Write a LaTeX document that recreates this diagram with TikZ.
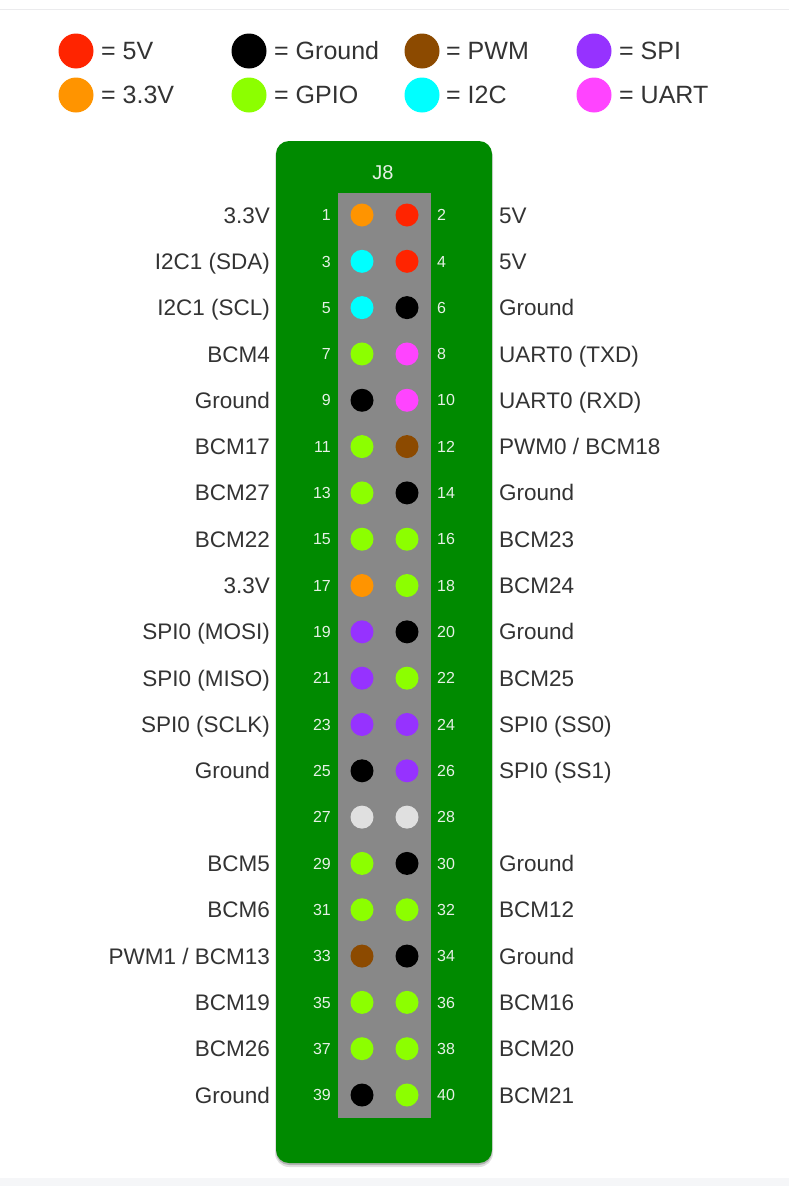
\documentclass[tikz,border=0pt]{standalone}
\usepackage{fontspec}
\setmainfont{Liberation Sans}
\definecolor{cfive}{RGB}{255,36,0}
\definecolor{cthree}{RGB}{255,148,0}
\definecolor{cgnd}{RGB}{0,0,0}
\definecolor{cgpio}{RGB}{140,255,0}
\definecolor{cpwm}{RGB}{140,74,0}
\definecolor{ciic}{RGB}{0,255,255}
\definecolor{cspi}{RGB}{150,50,255}
\definecolor{cuart}{RGB}{255,68,255}
\definecolor{cnone}{RGB}{224,224,224}
\definecolor{cboard}{RGB}{0,138,0}
\definecolor{cheader}{RGB}{136,136,136}
\definecolor{ctext}{RGB}{51,51,51}
\definecolor{cnum}{RGB}{230,240,230}
\tikzset{
  pinnode/.style={circle, draw=none, minimum size=23, inner sep=0pt},
  legdot/.style={circle, draw=none, minimum size=35, inner sep=0pt},
  numtext/.style={text=cnum, inner sep=0pt, font=\fontsize{16}{19}\selectfont, text height=11.46pt, text depth=0pt},
  lbltext/.style={text=ctext, inner sep=0pt, font=\fontsize{22.5}{26}\selectfont, text height=16.1pt, text depth=0pt},
  legtext/.style={text=ctext, inner sep=0pt, anchor=west, font=\fontsize{25}{30}\selectfont, text height=17.9pt, text depth=0pt},
}
\newcommand{\pinrow}[5]{%
  \pgfmathsetmacro{\yy}{215+(#1-1)*46.316}%
  \pgfmathtruncatemacro{\pl}{2*#1-1}%
  \pgfmathtruncatemacro{\pr}{2*#1}%
  \node[pinnode, fill=#2] (p\pl) at (362,\yy) {};
  \node[pinnode, fill=#4] (p\pr) at (407,\yy) {};
  \node[numtext, anchor=east] (n\pl) at (331,\yy) {\pl};
  \node[numtext, anchor=west] (n\pr) at (437,\yy) {\pr};
  \node[lbltext, anchor=east] (l\pl) at (270,\yy) {#3};
  \node[lbltext, anchor=west] (l\pr) at (499,\yy) {#5};
}
\begin{document}
\begin{tikzpicture}[x=1pt,y=-1pt]
\useasboundingbox (0,0) rectangle (789,1186);
\fill[white] (0,0) rectangle (789,1186);
\draw[line width=1pt, color={rgb,255:red,235;green,235;blue,237}] (0,9) -- (789,9);
\fill[color={rgb,255:red,245;green,246;blue,248}] (0,1178) rectangle (789,1186);
% legend
\node[legdot, fill=cfive] (d1) at (76,51) {};
\node[legtext] (t1) at (101,51) {= 5V};
\node[legdot, fill=cthree] (d2) at (76,95) {};
\node[legtext] (t2) at (101,95) {= 3.3V};
\node[legdot, fill=cgnd] (d3) at (249,51) {};
\node[legtext] (t3) at (274,51) {= Ground};
\node[legdot, fill=cgpio] (d4) at (249,95) {};
\node[legtext] (t4) at (274,95) {= GPIO};
\node[legdot, fill=cpwm] (d5) at (422,51) {};
\node[legtext] (t5) at (446,51) {= PWM};
\node[legdot, fill=ciic] (d6) at (422,95) {};
\node[legtext] (t6) at (446,95) {= I2C};
\node[legdot, fill=cspi] (d7) at (594,51) {};
\node[legtext] (t7) at (619,51) {= SPI};
\node[legdot, fill=cuart] (d8) at (594,95) {};
\node[legtext] (t8) at (619,95) {= UART};
% board shadow
\fill[black, opacity=0.12, rounded corners=14] (275,143) rectangle (493,1167);
\fill[black, opacity=0.2, rounded corners=13] (276,142) rectangle (492,1165);
% board
\fill[cboard, rounded corners=13] (276,141) rectangle (492,1163);
\fill[cheader] (338,193) rectangle (431,1118);
\node[numtext, anchor=center, font=\fontsize{20}{24}\selectfont, text height=14.3pt] (j8) at (383,172) {J8};
\pinrow{1}{cthree}{3.3V}{cfive}{5V}
\pinrow{2}{ciic}{I2C1 (SDA)}{cfive}{5V}
\pinrow{3}{ciic}{I2C1 (SCL)}{cgnd}{Ground}
\pinrow{4}{cgpio}{BCM4}{cuart}{UART0 (TXD)}
\pinrow{5}{cgnd}{Ground}{cuart}{UART0 (RXD)}
\pinrow{6}{cgpio}{BCM17}{cpwm}{PWM0 / BCM18}
\pinrow{7}{cgpio}{BCM27}{cgnd}{Ground}
\pinrow{8}{cgpio}{BCM22}{cgpio}{BCM23}
\pinrow{9}{cthree}{3.3V}{cgpio}{BCM24}
\pinrow{10}{cspi}{SPI0 (MOSI)}{cgnd}{Ground}
\pinrow{11}{cspi}{SPI0 (MISO)}{cgpio}{BCM25}
\pinrow{12}{cspi}{SPI0 (SCLK)}{cspi}{SPI0 (SS0)}
\pinrow{13}{cgnd}{Ground}{cspi}{SPI0 (SS1)}
\pinrow{14}{cnone}{}{cnone}{}
\pinrow{15}{cgpio}{BCM5}{cgnd}{Ground}
\pinrow{16}{cgpio}{BCM6}{cgpio}{BCM12}
\pinrow{17}{cpwm}{PWM1 / BCM13}{cgnd}{Ground}
\pinrow{18}{cgpio}{BCM19}{cgpio}{BCM16}
\pinrow{19}{cgpio}{BCM26}{cgpio}{BCM20}
\pinrow{20}{cgnd}{Ground}{cgpio}{BCM21}
\end{tikzpicture}
\end{document}
